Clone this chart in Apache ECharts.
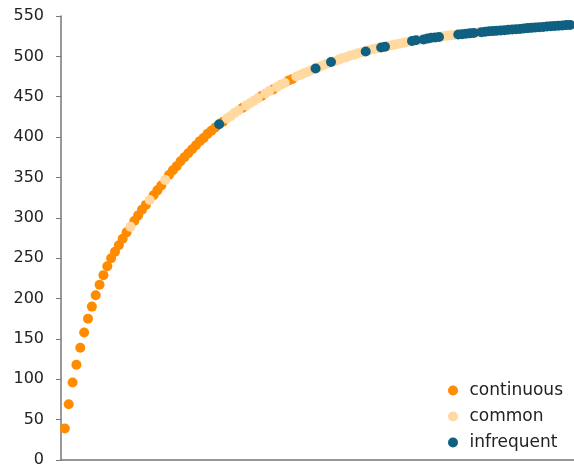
<!DOCTYPE html>
<html lang="en">
<head>
  <meta charset="UTF-8">
  <title>scatter</title>
  <style>
    body { margin: 0; }
    #main { width: 574px; height: 465px; }
  </style>
</head>
<body>
<div id="main"></div>
<script src="https://cdn.jsdelivr.net/npm/echarts@6/dist/echarts.min.js"></script>
<script>
  // y value of each point, in order (x = 1, 2, 3 ...)
  const yValues = [
    39, 69, 96, 118, 139, 158, 175, 190, 204, 217,
    229, 240, 250, 258, 266, 274, 282, 289, 296, 303,
    310, 316, 322, 328, 334, 340, 347, 353, 359, 364,
    370, 375, 380, 385, 390, 395, 399, 404, 408, 412,
    416, 419, 423, 426, 430, 433, 436, 439, 442, 445,
    448, 451, 454, 457, 459, 462, 465, 467, 470, 472,
    475, 477, 479, 481, 483, 485, 487, 489, 491, 493,
    494, 496, 498, 499, 501, 502, 504, 505, 506, 508,
    509, 510, 511, 512, 513, 514, 515, 516, 517, 518,
    519, 520, 520.5, 521, 522, 523, 523.5, 524, 525, 525.5,
    526, 526.5, 527, 527.5, 528, 528.5, 529, 529.5, 530, 530.5,
    531, 531.3, 531.7, 532, 532.5, 533, 533.3, 533.7, 534, 534.5,
    535, 535.3, 535.7, 536, 536.5, 537, 537.3, 537.7, 538, 538.3, 538.7, 539
  ];

  // which points are "common" / "infrequent"; the rest are "continuous"
  const commonIdx = [18, 23, 27, 43, 44, 45, 46, 48, 49, 50, 51, 53, 54, 56, 57, 58,
    61, 62, 63, 64, 65, 67, 68, 69, 71, 72, 73, 74, 75, 76, 77, 78, 80, 81, 82,
    85, 86, 87, 88, 89, 90, 93, 99, 100, 101, 102, 108];
  const infrequentIdx = [41, 66, 70, 79, 83, 84, 91, 92, 94, 95, 96, 97, 98,
    103, 104, 105, 106, 107, 109, 110, 111, 112, 113, 114, 115, 116, 117, 118, 119, 120,
    121, 122, 123, 124, 125, 126, 127, 128, 129, 130, 131, 132];

  const seriesNames = ['continuous', 'common', 'infrequent'];
  const seriesColors = ['#ff8c00', '#ffd9a0', '#0f6081'];

  let groups = [[], [], []];
  yValues.forEach((y, k) => {
    let i = k + 1;
    let g = 0;
    if (commonIdx.includes(i)) g = 1;
    if (infrequentIdx.includes(i)) g = 2;
    groups[g].push([i, y]);
  });

  let chart = echarts.init(document.getElementById('main'));
  let option = {
    animation: false,
    textStyle: { fontFamily: 'DejaVu Sans' },
    // labels may spill past the edge, like the original
    grid: { left: 61, right: 0, top: 16, bottom: 5, outerBoundsMode: 'none', containLabel: false },
    legend: {
      orient: 'vertical',
      left: 443,
      top: 377,
      itemWidth: 23,
      itemHeight: 10,
      itemGap: 9,
      icon: 'circle',
      textStyle: { fontSize: 17, color: '#222', fontFamily: 'DejaVu Sans' },
      data: seriesNames
    },
    xAxis: {
      type: 'value',
      min: 0,
      max: 133,
      axisLine: { lineStyle: { color: '#777', width: 1.5 } },
      axisTick: { show: false },
      axisLabel: { show: false },
      splitLine: { show: false }
    },
    yAxis: {
      type: 'value',
      min: 0,
      max: 550,
      interval: 50,
      axisLine: { show: true, lineStyle: { color: '#777', width: 1.5 } },
      axisTick: { show: true, length: 5, lineStyle: { color: '#777' } },
      axisLabel: { fontSize: 16, color: '#222', margin: 17, fontFamily: 'DejaVu Sans' },
      splitLine: { show: false }
    },
    series: seriesNames.map((name, g) => ({
      name: name,
      type: 'scatter',
      symbolSize: 10,
      itemStyle: { color: seriesColors[g], opacity: 1 },
      data: groups[g]
    }))
  };
  chart.setOption(option);
</script>
</body>
</html>
